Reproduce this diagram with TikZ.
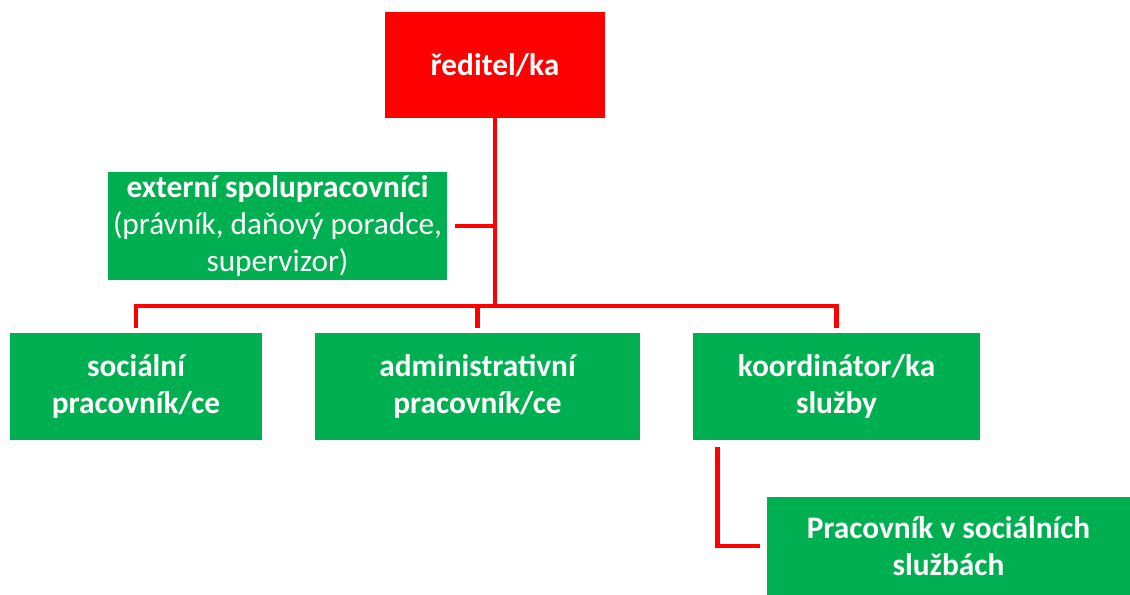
\documentclass[tikz,border=0pt]{standalone}
\usepackage{fontspec}
\setmainfont{Carlito}
\definecolor{redbox}{HTML}{FF0000}
\definecolor{greenbox}{HTML}{00B050}
\tikzset{
  box/.style={fill=greenbox, text=white, align=center, inner sep=2pt,
    font=\fontsize{23.5}{27.5}\selectfont},
  conn/.style={draw=redbox, line width=3.6pt}
}
\begin{document}
\begin{tikzpicture}[x=0.75pt, y=-0.75pt]
  \useasboundingbox (0,0) rectangle (1130,594);

  % Boxes
  \node[box, fill=redbox, minimum width=165pt, minimum height=79.5pt] (dir) at (495,65) {\bfseries ředitel/ka};
  \node[box, minimum width=254pt, minimum height=81pt] (ext) at (277.5,226)
    {\bfseries externí spolupracovníci\\(právník, daňový poradce,\\supervizor)};
  \node[box, minimum width=189pt, minimum height=80.25pt] (soc) at (136,386.5) {\bfseries sociální\\\bfseries pracovník/ce};
  \node[box, minimum width=243.75pt, minimum height=80.25pt] (adm) at (477.5,386.5) {\bfseries administrativní\\\bfseries pracovník/ce};
  \node[box, minimum width=215.25pt, minimum height=80.25pt] (koord) at (836.5,386.5) {\bfseries koordinátor/ka\\\bfseries služby};
  \node[box, minimum width=272.25pt, minimum height=74.25pt] (prac) at (948.5,546) {\bfseries Pracovník v sociálních\\\bfseries službách};

  % Connectors
  \coordinate (bus) at (495,306);
  \coordinate (busL) at (soc.north |- bus);
  \coordinate (busR) at (koord.north |- bus);
  \draw[conn] (dir.south) -- (bus);
  \draw[conn] ([yshift=3.75pt]soc.north) -- (busL) -- (busR) -- ([yshift=3.75pt]koord.north);
  \draw[conn] (bus -| adm.north) -- ([yshift=3.75pt]adm.north);
  \draw[conn] ([xshift=6pt]ext.east) -- (ext.east -| dir.south);
  \coordinate (kb) at ([xshift=18.75pt,yshift=-5.25pt]koord.south west);
  \draw[conn] (kb) |- ([xshift=-5.25pt]prac.west);
\end{tikzpicture}
\end{document}
